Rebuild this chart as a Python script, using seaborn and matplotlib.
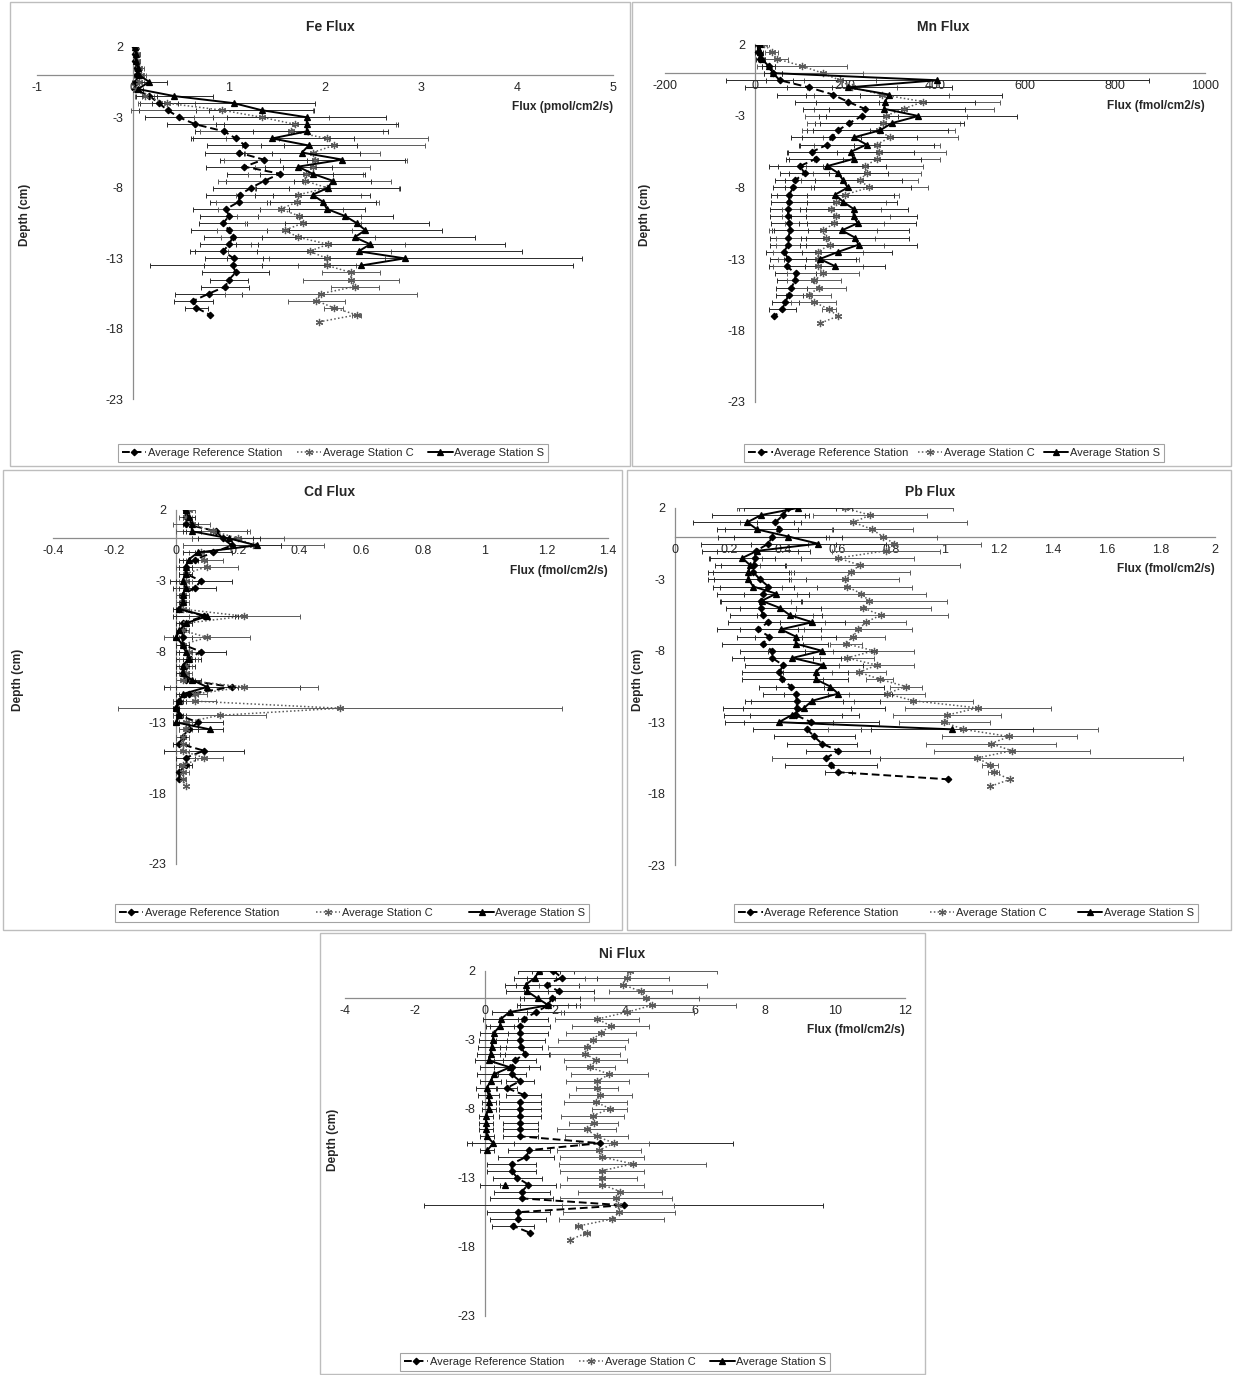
import numpy as np
import pandas as pd
import matplotlib
matplotlib.use("Agg")
import matplotlib.pyplot as plt
import seaborn as sns
from matplotlib.lines import Line2D
from matplotlib.patches import Rectangle

# depth of each slice (cm), shared by every profile
DEPTH = [2, 1.5, 1, 0.5, 0, -0.5, -1, -1.5, -2, -2.5, -3, -3.5, -4, -4.5, -5,
         -5.5, -6, -6.5, -7, -7.5, -8, -8.5, -9, -9.5, -10, -10.5, -11, -11.5,
         -12, -12.5, -13, -13.5, -14, -14.5, -15, -15.5, -16, -16.5, -17, -17.5]
DEPTH_TICKS = [2, -3, -8, -13, -18, -23]
SERIES_NAMES = ["Average Reference Station", "Average Station C", "Average Station S"]

# ---- Fe (pmol/cm2/s) ----
FE_XTICKS = [-1, 0, 1, 2, 3, 4, 5]
FE_REF = [0.02, 0.02, 0.02, 0.04, 0.04, 0.03, 0.02, 0.17, 0.27, 0.36, 0.48, 0.65, 0.95, 1.07, 1.17,
          1.10, 1.36, 1.16, 1.53, 1.37, 1.23, 1.11, 1.10, 0.97, 1.00, 0.94, 1.00, 1.04, 1.00, 0.94,
          1.05, 1.04, 1.07, 1.00, 0.96, 0.79, 0.63, 0.66, 0.80]
FE_REF_ERR = [0.01, 0.01, 0.01, 0.02, 0.03, 0.03, 0.02, 0.08, 0.2, 0.3, 0.35, 0.3, 0.3, 0.45, 0.4,
              0.35, 0.45, 0.4, 0.55, 0.4, 0.4, 0.35, 0.3, 0.35, 0.3, 0.25, 0.4, 0.3, 0.3, 0.35,
              0.3, 0.3, 0.35, 0.2, 0.25, 0.35, 0.2, 0.12, 0.0]
FE_C = [0.03, 0.04, 0.04, 0.06, 0.08, 0.06, 0.03, 0.12, 0.35, 0.93, 1.34, 1.69, 1.65, 2.02, 2.09,
        1.87, 1.90, 1.87, 1.80, 1.79, 2.02, 1.72, 1.71, 1.54, 1.73, 1.77, 1.58, 1.72, 2.03, 1.84,
        2.02, 2.02, 2.27, 2.27, 2.31, 1.96, 1.91, 2.09, 2.33, 1.94]
FE_C_ERR = [0.02, 0.03, 0.03, 0.05, 0.06, 0.05, 0.03, 0.1, 0.3, 0.95, 0.7, 1.05, 0.95, 1.05, 0.95,
            0.7, 0.95, 0.6, 0.6, 0.9, 0.75, 0.65, 0.85, 0.65, 0.65, 0.6, 0.7, 0.8, 0.8, 0.85,
            0.6, 0.3, 0.3, 0.5, 0.25, 1.0, 0.3, 0.1, 0.05, 0.0]
FE_S = [0.02, 0.03, 0.03, 0.05, 0.06, 0.17, 0.05, 0.43, 1.05, 1.34, 1.81, 1.81, 1.81, 1.45, 1.83,
        1.76, 2.18, 1.72, 1.87, 2.08, 2.03, 1.87, 1.98, 2.02, 2.21, 2.33, 2.42, 2.31, 2.47, 2.35,
        2.83, 2.38]
FE_S_ERR = [0.01, 0.02, 0.02, 0.03, 0.04, 0.18, 0.05, 0.4, 0.85, 0.55, 0.83, 0.95, 0.85, 0.85, 0.5,
            0.6, 0.65, 0.35, 0.55, 0.4, 0.75, 0.6, 0.55, 0.4, 0.5, 0.75, 0.8, 1.25, 1.4, 1.7,
            1.85, 2.2]

# ---- Mn (fmol/cm2/s) ----
MN_XTICKS = [-200, 0, 200, 400, 600, 800, 1000]
MN_REF = [6, 7, 11, 30, 40, 55, 120, 173, 206, 244, 238, 209, 185, 170, 161, 127, 135, 100, 110, 89,
          85, 76, 76, 74, 73, 76, 78, 74, 73, 65, 74, 70, 90, 89, 81, 76, 67, 61, 43]
MN_REF_ERR = [5, 6, 8, 15, 20, 30, 50, 60, 70, 80, 80, 75, 70, 65, 60, 55, 60, 50, 55, 45,
              45, 40, 40, 40, 40, 40, 40, 40, 40, 40, 40, 40, 45, 40, 35, 30, 30, 30, 0]
MN_C = [21, 37, 48, 104, 150, 189, 215, 282, 374, 330, 290, 285, 275, 300, 270, 275, 272, 244, 248, 233,
        254, 200, 181, 169, 179, 176, 152, 157, 167, 139, 141, 139, 152, 132, 143, 119, 130, 164, 184, 144]
MN_C_ERR = [10, 15, 25, 100, 90, 80, 100, 150, 170, 200, 180, 170, 170, 150, 140, 150, 140, 130, 120, 130,
            130, 120, 110, 110, 120, 110, 120, 110, 120, 100, 90, 100, 80, 60, 60, 50, 50, 15, 0, 0]
MN_S = [10, 12, 15, 30, 40, 405, 207, 298, 289, 287, 363, 304, 278, 219, 248, 213, 219, 161, 185, 196,
        206, 178, 196, 219, 219, 228, 193, 222, 230, 185, 144, 178]
MN_S_ERR = [5, 6, 8, 15, 20, 470, 230, 250, 200, 180, 220, 160, 150, 140, 150, 140, 150, 130, 110, 130,
            140, 130, 120, 120, 140, 130, 150, 120, 130, 120, 80, 110]

# ---- Cd (fmol/cm2/s) ----
CD_XTICKS = [-0.4, -0.2, 0, 0.2, 0.4, 0.6, 0.8, 1, 1.2, 1.4]
CD_REF = [0.03, 0.03, 0.03, 0.13, 0.15, 0.18, 0.12, 0.06, 0.03, 0.03, 0.08, 0.06, 0.02, 0.02, 0.01,
          0.09, 0.02, 0.02, 0.02, 0.02, 0.08, 0.04, 0.03, 0.02, 0.03, 0.18, 0.04, 0.01, 0.0, 0.01,
          0.07, 0.04, 0.02, 0.01, 0.09, 0.03, 0.03, 0.01, 0.01]
CD_REF_ERR = [0.01, 0.01, 0.01, 0.1, 0.1, 0.16, 0.06, 0.04, 0.02, 0.02, 0.1, 0.07, 0.02, 0.02, 0.02,
              0.1, 0.02, 0.02, 0.03, 0.02, 0.08, 0.04, 0.03, 0.02, 0.03, 0.22, 0.03, 0.02, 0.01, 0.02,
              0.08, 0.03, 0.02, 0.02, 0.13, 0.03, 0.02, 0.01, 0.0]
CD_C = [0.04, 0.03, 0.05, 0.12, 0.2, 0.25, 0.08, 0.09, 0.1, 0.03, 0.03, 0.03, 0.02, 0.02, 0.02,
        0.22, 0.03, 0.02, 0.1, 0.02, 0.04, 0.04, 0.03, 0.03, 0.02, 0.22, 0.06, 0.06, 0.53, 0.14,
        0.03, 0.03, 0.02, 0.02, 0.02, 0.09, 0.02, 0.02, 0.02, 0.03]
CD_C_ERR = [0.02, 0.02, 0.06, 0.12, 0.15, 0.23, 0.04, 0.06, 0.1, 0.02, 0.02, 0.03, 0.02, 0.02, 0.02,
            0.18, 0.02, 0.02, 0.14, 0.02, 0.03, 0.03, 0.02, 0.02, 0.02, 0.24, 0.04, 0.07, 0.72, 0.15,
            0.02, 0.02, 0.02, 0.02, 0.02, 0.06, 0.02, 0.02, 0.01, 0.0]
CD_S = [0.03, 0.04, 0.05, 0.05, 0.17, 0.26, 0.07, 0.04, 0.03, 0.03, 0.02, 0.03, 0.02, 0.02, 0.01,
        0.1, 0.03, 0.01, 0.0, 0.02, 0.03, 0.04, 0.02, 0.02, 0.05, 0.1, 0.02, 0.01, 0.0, 0.01,
        0.0, 0.11]
CD_S_ERR = [0.01, 0.02, 0.02, 0.03, 0.1, 0.08, 0.05, 0.03, 0.02, 0.02, 0.02, 0.02, 0.01, 0.01, 0.01,
            0.1, 0.02, 0.01, 0.01, 0.02, 0.02, 0.02, 0.02, 0.02, 0.03, 0.1, 0.02, 0.01, 0.01, 0.01,
            0.01, 0.04]

# ---- Pb (fmol/cm2/s) ----
PB_XTICKS = [0, 0.2, 0.4, 0.6, 0.8, 1, 1.2, 1.4, 1.6, 1.8, 2]
PB_REF = [0.418, 0.40, 0.372, 0.387, 0.36, 0.346, 0.30, 0.296, 0.292, 0.29, 0.315, 0.346, 0.325, 0.318,
          0.318, 0.325, 0.346, 0.306, 0.349, 0.325, 0.36, 0.36, 0.40, 0.387, 0.397, 0.43, 0.447, 0.451,
          0.451, 0.447, 0.504, 0.49, 0.515, 0.544, 0.604, 0.561, 0.578, 0.604, 1.012]
PB_REF_ERR = [0.18, 0.08, 0.07, 0.2, 0.2, 0.25, 0.2, 0.17, 0.12, 0.15, 0.17, 0.18, 0.17, 0.15, 0.13,
              0.12, 0.15, 0.15, 0.12, 0.15, 0.12, 0.15, 0.14, 0.14, 0.15, 0.12, 0.12, 0.17, 0.2, 0.17,
              0.25, 0.2, 0.15, 0.13, 0.12, 0.2, 0.17, 0.05, 0.0]
PB_C = [0.63, 0.722, 0.661, 0.73, 0.77, 0.812, 0.78, 0.604, 0.684, 0.651, 0.63, 0.637, 0.69, 0.719,
        0.697, 0.762, 0.707, 0.679, 0.659, 0.633, 0.736, 0.637, 0.747, 0.683, 0.759, 0.855, 0.785,
        0.883, 1.122, 1.008, 0.998, 1.067, 1.238, 1.17, 1.248, 1.12, 1.167, 1.18, 1.241, 1.167]
PB_C_ERR = [0.4, 0.21, 0.42, 0.15, 0.2, 0.32, 0.2, 0.28, 0.37, 0.22, 0.2, 0.24, 0.24, 0.29, 0.25,
            0.25, 0.15, 0.2, 0.12, 0.06, 0.15, 0.1, 0.14, 0.1, 0.05, 0.06, 0.14, 0.22, 0.27, 0.2,
            0.17, 0.5, 0.25, 0.24, 0.29, 0.76, 0.03, 0.02, 0.0, 0.0]
PB_S = [0.454, 0.318, 0.268, 0.304, 0.42, 0.53, 0.304, 0.249, 0.278, 0.272, 0.272, 0.29, 0.375, 0.321,
        0.389, 0.425, 0.508, 0.392, 0.447, 0.447, 0.544, 0.435, 0.547, 0.521, 0.522, 0.575, 0.604,
        0.508, 0.478, 0.432, 0.385, 1.026]
PB_S_ERR = [0.2, 0.18, 0.2, 0.15, 0.2, 0.25, 0.15, 0.12, 0.13, 0.15, 0.15, 0.15, 0.12, 0.15, 0.15,
            0.12, 0.12, 0.15, 0.15, 0.12, 0.2, 0.18, 0.15, 0.12, 0.12, 0.2, 0.2, 0.25, 0.3, 0.25,
            0.2, 0.3]

# ---- Ni (fmol/cm2/s) ----
NI_XTICKS = [-4, -2, 0, 2, 4, 6, 8, 10, 12]
NI_REF = [1.95, 2.19, 1.78, 2.1, 1.9, 1.81, 1.46, 1.11, 1.0, 1.0, 1.0, 1.02, 1.14, 0.86, 0.76, 0.76,
          1.0, 0.62, 1.11, 1.0, 1.0, 1.0, 1.0, 1.0, 1.0, 3.29, 1.27, 1.17, 0.76, 0.76, 0.92, 1.24,
          1.05, 1.05, 3.97, 0.95, 0.95, 0.81, 1.29]
NI_REF_ERR = [0.6, 1.0, 0.9, 1.0, 0.8, 0.9, 0.8, 0.7, 0.86, 0.8, 0.7, 0.6, 0.7, 0.6, 0.5, 0.4,
              0.4, 0.3, 0.5, 0.6, 0.6, 0.6, 0.5, 0.5, 0.5, 3.8, 0.6, 0.8, 0.7, 0.7, 0.7, 0.8,
              0.8, 0.9, 5.7, 0.9, 0.8, 0.6, 0.0]
NI_C = [4.14, 4.05, 3.93, 4.45, 4.6, 4.77, 4.07, 3.21, 3.59, 3.3, 3.08, 2.9, 2.86, 3.17, 3.0, 3.55,
        3.21, 3.21, 3.29, 3.16, 3.57, 3.08, 3.1, 2.9, 3.19, 3.69, 3.27, 3.35, 4.22, 3.33, 3.33, 3.35,
        3.86, 3.73, 3.81, 3.84, 3.62, 2.67, 2.9, 2.43]
NI_C_ERR = [2.5, 1.2, 2.4, 0.9, 1.5, 2.4, 1.9, 1.2, 1.1, 1.0, 1.0, 1.1, 1.0, 0.9, 0.7, 1.1,
            0.9, 0.6, 0.9, 0.9, 0.5, 0.9, 0.7, 0.85, 0.9, 1.0, 1.2, 1.2, 2.1, 1.2, 1.0, 1.2,
            1.2, 1.6, 1.6, 1.6, 1.5, 0.1, 0.1, 0.0]
NI_S = [1.55, 1.43, 1.17, 1.21, 1.5, 1.81, 0.7, 0.45, 0.43, 0.26, 0.22, 0.19, 0.16, 0.1, 0.71, 0.26,
        0.16, 0.05, 0.1, 0.12, 0.1, 0.03, 0.03, 0.03, 0.05, 0.24, 0.07, np.nan, np.nan, np.nan, np.nan, 0.57]
NI_S_ERR = [0.6, 0.6, 0.6, 0.6, 0.5, 0.8, 0.5, 0.5, 0.4, 0.4, 0.4, 0.4, 0.4, 0.4, 0.85, 0.5,
            0.3, 0.3, 0.3, 0.2, 0.2, 0.2, 0.2, 0.2, 0.2, 0.6, 0.2, np.nan, np.nan, np.nan, np.nan, 0.7]

W, H = 1233, 1375

STYLES = [
    dict(color="black", linestyle=(0, (4, 2)), linewidth=1.4, marker="D", markersize=3.3, ecolor="#2a2a2a"),
    dict(color="#5a5a5a", linestyle=(0, (1, 1.5)), linewidth=1.1, marker=(6, 2, 0), markersize=5.2, ecolor="#5a5a5a"),
    dict(color="black", linestyle="-", linewidth=1.4, marker="^", markersize=4.5, ecolor="#2a2a2a"),
]

# pixel layout of each chart: axes box (x0, x1, ytop, ybot), title, depth label, legend centre, frame
PANELS = [
    dict(title="Fe Flux", unit="Flux (pmol/cm2/s)", xticks=FE_XTICKS,
         values=[FE_REF, FE_C, FE_S], errors=[FE_REF_ERR, FE_C_ERR, FE_S_ERR],
         axes_px=(37, 613, 46.7, 399.5), title_px=(330, 27), depth_px=(25, 215),
         legend_px=(333, 453), legend_gap=1.3, box_px=(10, 2, 630, 466)),
    dict(title="Mn Flux", unit="Flux (fmol/cm2/s)", xticks=MN_XTICKS,
         values=[MN_REF, MN_C, MN_S], errors=[MN_REF_ERR, MN_C_ERR, MN_S_ERR],
         axes_px=(665, 1205, 44.5, 402), title_px=(943, 27), depth_px=(645, 215),
         legend_px=(954, 453), legend_gap=0.8, box_px=(632, 2, 1231, 466)),
    dict(title="Cd Flux", unit="Flux (fmol/cm2/s)", xticks=CD_XTICKS,
         values=[CD_REF, CD_C, CD_S], errors=[CD_REF_ERR, CD_C_ERR, CD_S_ERR],
         axes_px=(53, 608, 510, 864), title_px=(330, 492), depth_px=(18, 680),
         legend_px=(352, 913), legend_gap=3.3, box_px=(3, 470, 622, 930)),
    dict(title="Pb Flux", unit="Flux (fmol/cm2/s)", xticks=PB_XTICKS,
         values=[PB_REF, PB_C, PB_S], errors=[PB_REF_ERR, PB_C_ERR, PB_S_ERR],
         axes_px=(675, 1215, 508, 865), title_px=(930, 492), depth_px=(638, 680),
         legend_px=(966, 913), legend_gap=2.8, box_px=(627, 470, 1231, 930)),
    dict(title="Ni Flux", unit="Flux (fmol/cm2/s)", xticks=NI_XTICKS,
         values=[NI_REF, NI_C, NI_S], errors=[NI_REF_ERR, NI_C_ERR, NI_S_ERR],
         axes_px=(345, 905, 970.7, 1315.7), title_px=(622, 954), depth_px=(333, 1140),
         legend_px=(615, 1362), legend_gap=1.3, box_px=(320, 933, 925, 1374)),
]


def add_series(ax, flux, err, style):
    n = len(flux)
    df = pd.DataFrame({"depth": DEPTH[:n], "flux": flux, "err": err})
    # gaps in a profile split the line into separate pieces
    df["seg"] = df["flux"].isna().cumsum()
    df = df.dropna()
    ax.errorbar(df["flux"], df["depth"], xerr=df["err"], fmt="none", ecolor=style["ecolor"],
                elinewidth=0.7, capsize=1.8, capthick=0.7, zorder=2)
    sns.lineplot(data=df, x="flux", y="depth", units="seg", estimator=None, sort=False,
                 color=style["color"], linestyle=style["linestyle"], linewidth=style["linewidth"],
                 marker=style["marker"], markersize=style["markersize"],
                 markeredgecolor=style["color"], markerfacecolor=style["color"],
                 markeredgewidth=0.9, legend=False, ax=ax, zorder=3)


def legend_handles():
    handles = []
    for s in STYLES:
        handles.append(Line2D([0], [0], color=s["color"], linestyle=s["linestyle"], linewidth=s["linewidth"],
                              marker=s["marker"], markersize=s["markersize"],
                              markeredgecolor=s["color"], markerfacecolor=s["color"], markeredgewidth=0.9))
    return handles


def draw_panel(fig, p):
    x0, x1, ytop, ybot = p["axes_px"]
    ax = fig.add_axes([x0 / W, 1 - ybot / H, (x1 - x0) / W, (ybot - ytop) / H])
    ax.patch.set_alpha(0)
    for flux, err, style in zip(p["values"], p["errors"], STYLES):
        add_series(ax, flux, err, style)

    xt = p["xticks"]
    ax.set_xlim(xt[0], xt[-1])
    ax.set_ylim(-23, 2)
    ax.set_xlabel("")
    ax.set_ylabel("")
    ax.set_axisbelow(True)

    for side in ["top", "right"]:
        ax.spines[side].set_visible(False)
    ax.spines["left"].set_position(("data", 0))
    ax.spines["bottom"].set_position(("data", 0))
    for side in ["left", "bottom"]:
        ax.spines[side].set_color("#8c8c8c")
        ax.spines[side].set_linewidth(0.9)
        ax.spines[side].set_zorder(0.5)

    ax.set_xticks(xt)
    ax.set_xticklabels([f"{t:g}" for t in xt])
    ax.set_yticks(DEPTH_TICKS)
    ax.set_yticklabels([f"{t:g}" for t in DEPTH_TICKS])
    ax.tick_params(axis="x", direction="in", length=4, color="#8c8c8c", labelsize=9, pad=5)
    ax.tick_params(axis="y", direction="out", length=4, color="#8c8c8c", labelsize=9, pad=3)

    ax.text(xt[-1], -2.3, p["unit"], ha="right", va="center", fontsize=8.6, fontweight="bold")

    tx, ty = p["title_px"]
    fig.text(tx / W, 1 - ty / H, p["title"], ha="center", va="center", fontsize=10, fontweight="bold")
    dx, dy = p["depth_px"]
    fig.text(dx / W, 1 - dy / H, "Depth (cm)", rotation=90, ha="center", va="center",
             fontsize=8.6, fontweight="bold")

    lx, ly = p["legend_px"]
    leg = ax.legend(legend_handles(), SERIES_NAMES, loc="center", bbox_to_anchor=(lx / W, 1 - ly / H),
                    bbox_transform=fig.transFigure, ncol=3, fontsize=8, frameon=True, fancybox=False,
                    handlelength=2.2, handletextpad=0.15, columnspacing=p["legend_gap"], borderpad=0.35)
    leg.get_frame().set_edgecolor("#8c8c8c")
    leg.get_frame().set_linewidth(0.8)

    bx0, by0, bx1, by1 = p["box_px"]
    fig.add_artist(Rectangle((bx0 / W, 1 - by1 / H), (bx1 - bx0) / W, (by1 - by0) / H,
                             transform=fig.transFigure, fill=False, edgecolor="#bdbdbd", linewidth=1))
    return ax


sns.set_style("white")
plt.rcParams["font.family"] = ["Liberation Sans", "DejaVu Sans"]

fig = plt.figure(figsize=(W / 100, H / 100), dpi=100)
for panel in PANELS:
    draw_panel(fig, panel)

fig.savefig("out.png", dpi=100)
